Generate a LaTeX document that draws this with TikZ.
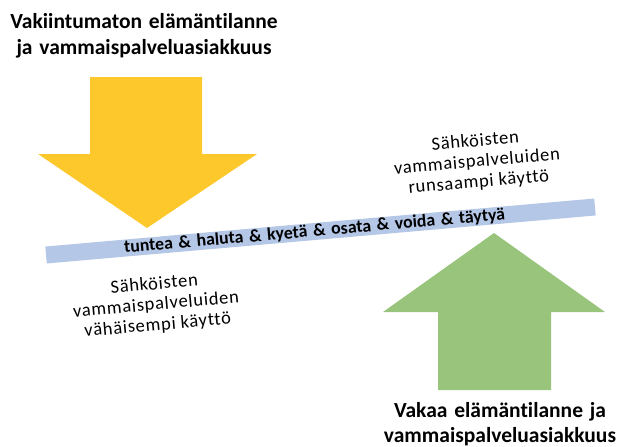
\documentclass[tikz,border=0pt]{standalone}
\usepackage{fontspec}
\setmainfont{Carlito}
\newfontfamily\wideword{Carlito}[WordSpace=1.4, Ligatures=NoCommon]
\newfontfamily\widelabel{Carlito}[LetterSpace=4, Ligatures=NoCommon]
\definecolor{arrowyellow}{HTML}{FCC82C}
\definecolor{arrowgreen}{HTML}{98C47C}
\definecolor{barblue}{HTML}{B4C7E7}
\tikzset{
  title/.style={font=\wideword\bfseries\fontsize{21.5}{25.5}\selectfont, align=center, inner sep=0pt},
  label/.style={font=\widelabel\fontsize{18.5}{20.5}\selectfont, align=center, inner sep=0pt, rotate=5},
  barbox/.style={fill=barblue, draw=none, rotate=5, minimum width=551pt, minimum height=17pt, inner sep=0pt,
     font=\wideword\bfseries\fontsize{17.8}{20}\selectfont},
}
\begin{document}
\begin{tikzpicture}[x=1pt,y=-1pt]
\useasboundingbox (0,0) rectangle (619,447);
% yellow arrow down
\fill[arrowyellow] (90,77) -- (202,77) -- (202,154) -- (257,154) -- (147,228) -- (38,154) -- (90,154) -- cycle;
% green arrow up
\fill[arrowgreen] (438,390) -- (551,390) -- (551,312) -- (605,312) -- (494,233) -- (383,312) -- (438,312) -- cycle;
% bar
\node[barbox] (bar) at (320.5,231) {\hspace*{-12pt}tuntea \& haluta \& kyetä \& osata \& voida \& täytyä};
% titles
\node[title] (top) at (144,36) {Vakiintumaton elämäntilanne\\ja vammaispalveluasiakkuus};
\node[title] (bottom) at (500,424) {Vakaa elämäntilanne ja\\vammaispalveluasiakkuus};
% labels
\node[label] (less) at (156,305) {Sähköisten\\vammaispalveluiden\\vähäisempi käyttö};
\node[label] (more) at (477,162) {Sähköisten\\vammaispalveluiden\\runsaampi käyttö};
\end{tikzpicture}
\end{document}
